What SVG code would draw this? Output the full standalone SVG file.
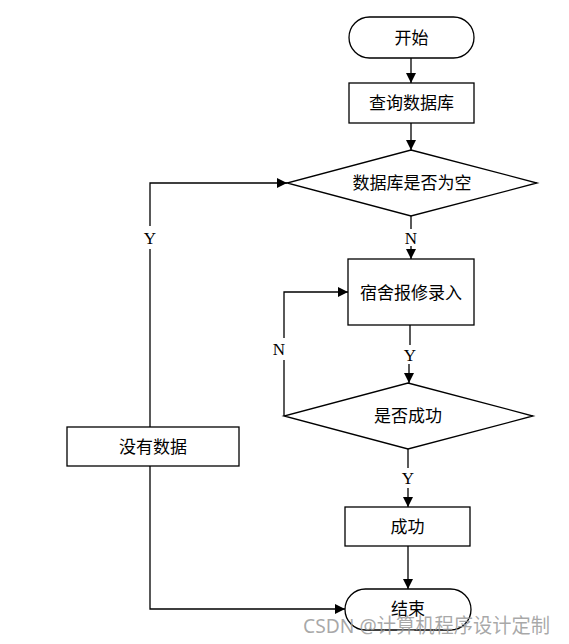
<svg xmlns="http://www.w3.org/2000/svg" width="569" height="644" viewBox="0 0 569 644">
<defs>
<style>
.shape{fill:#fff;stroke:#000;stroke-width:1.3}
.line{fill:none;stroke:#000;stroke-width:1.3}
.t{font-family:"Liberation Serif","Noto Sans CJK SC",serif;font-size:17px;fill:#000;text-anchor:middle;dominant-baseline:central}
.lbl{font-family:"Liberation Serif",serif;font-size:17px;fill:#000;text-anchor:middle;dominant-baseline:central}
</style>
<marker id="arr" viewBox="0 0 10 10" refX="10" refY="5" markerWidth="10" markerHeight="10" markerUnits="userSpaceOnUse" orient="auto">
<path d="M0,0 L10,5 L0,10 Z" fill="#000"/>
</marker>
</defs>
<rect width="569" height="644" fill="#fff"/>
<g id="connectors">
<line class="line" x1="411" y1="58" x2="411" y2="83" marker-end="url(#arr)"/>
<line class="line" x1="411" y1="123" x2="411" y2="150" marker-end="url(#arr)"/>
<line class="line" x1="411" y1="216" x2="411" y2="229"/>
<line class="line" x1="411" y1="246" x2="411" y2="259" marker-end="url(#arr)"/>
<line class="line" x1="410" y1="325" x2="410" y2="345"/>
<line class="line" x1="409" y1="364" x2="409" y2="383" marker-end="url(#arr)"/>
<path class="line" d="M284,416 L284,360"/>
<path class="line" d="M284,338 L284,292 L348,292" marker-end="url(#arr)"/>
<line class="line" x1="408" y1="449" x2="408" y2="468"/>
<line class="line" x1="408" y1="488" x2="408" y2="507" marker-end="url(#arr)"/>
<line class="line" x1="408" y1="546" x2="408" y2="589" marker-end="url(#arr)"/>
<path class="line" d="M150,427 L150,249"/>
<path class="line" d="M150,226 L150,183 L287,183" marker-end="url(#arr)"/>
<path class="line" d="M150,466 L150,609 L345,609" marker-end="url(#arr)"/>
<text class="lbl" x="411" y="238">N</text>
<text class="lbl" x="410" y="355">Y</text>
<text class="lbl" x="279" y="349">N</text>
<text class="lbl" x="408" y="478">Y</text>
<text class="lbl" x="150" y="238">Y</text>
</g>
<g id="start">
<rect class="shape" x="349" y="17" width="125" height="41" rx="20.5"/>
<text class="t" x="411.5" y="38">开始</text>
</g>
<g id="query">
<rect class="shape" x="349" y="83" width="125" height="40"/>
<text class="t" x="411.5" y="103">查询数据库</text>
</g>
<g id="isEmpty">
<polygon class="shape" points="411,150 537,183 411,216 287,183"/>
<text class="t" x="412" y="183">数据库是否为空</text>
</g>
<g id="input">
<rect class="shape" x="348" y="259" width="126" height="66"/>
<text class="t" x="411" y="293">宿舍报修录入</text>
</g>
<g id="isSuccess">
<polygon class="shape" points="408,383 533,416 408,449 284,416"/>
<text class="t" x="408" y="416">是否成功</text>
</g>
<g id="success">
<rect class="shape" x="345" y="507" width="125" height="39"/>
<text class="t" x="407.5" y="527">成功</text>
</g>
<g id="noData">
<rect class="shape" x="67" y="427" width="172" height="39"/>
<text class="t" x="153" y="447">没有数据</text>
</g>
<g id="end">
<rect class="shape" x="345" y="589" width="126" height="41" rx="20.5"/>
<text class="t" x="408" y="609">结束</text>
</g>
<text x="303" y="633" font-family="'Noto Sans','Noto Sans CJK SC',sans-serif" font-size="20" fill="#999" fill-opacity="0.85" textLength="247" lengthAdjust="spacingAndGlyphs">CSDN @计算机程序设计定制</text>
</svg>
